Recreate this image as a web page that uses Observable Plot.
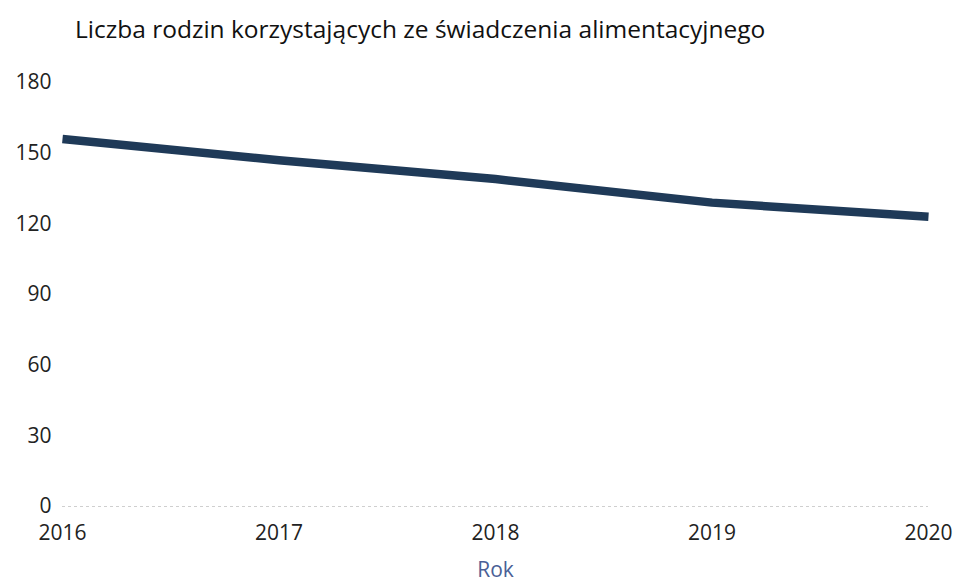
<!DOCTYPE html>
<html>
<head>
<meta charset="utf-8">
<script src="https://cdn.jsdelivr.net/npm/d3@7"></script>
<script src="https://cdn.jsdelivr.net/npm/@observablehq/plot@0.6"></script>
<style>
  body { margin: 0; background: #fff; }
  #wrap { width: 957px; height: 585px; position: relative; background:#fff; }
  #title { position: absolute; left: 75px; top: 12px; font-family: "Open Sans", sans-serif; font-size: 24.5px; color: #111; white-space: nowrap; }
  #chart { position: absolute; left: 0; top: 60px; }
</style>
</head>
<body>
<div id="wrap">
  <div id="title">Liczba rodzin korzystających ze świadczenia alimentacyjnego</div>
  <div id="chart"></div>
</div>
<script>
const years = [2016, 2017, 2018, 2019, 2020];
const values = [156, 147, 139, 129, 123];
const yTicks = [0, 30, 60, 90, 120, 150, 180];
const xLabel = "Rok";

const data = years.map((y, i) => ({ year: y, value: values[i] }));

const plot = Plot.plot({
  width: 957,
  height: 525,
  marginTop: 22,
  marginBottom: 79,
  marginLeft: 62,
  marginRight: 29,
  style: { fontFamily: "Open Sans, sans-serif", fontSize: "21px", color: "#222", background: "#fff" },
  x: { domain: [2016, 2020], label: null },
  y: { domain: [0, 180], label: null },
  axis: null,
  marks: [
    Plot.ruleY([0], { stroke: "#cfcfcf", strokeDasharray: "3,3", strokeWidth: 1 }),
    Plot.text(years, { x: d => d, frameAnchor: "bottom", dy: 33, text: d3.format("d"), fontSize: 21, fill: "#222" }),
    Plot.text(yTicks, { y: d => d, frameAnchor: "left", dx: -11, textAnchor: "end", text: d => String(d), fontSize: 21, fill: "#222" }),
    Plot.text([xLabel], { frameAnchor: "bottom", dy: 70, fill: "#4a5f96", fontSize: 21 }),
    Plot.line(data, { x: "year", y: "value", stroke: "#1f3a58", strokeWidth: 8.5, strokeLinecap: "butt" })
  ]
});
document.getElementById("chart").appendChild(plot);
</script>
</body>
</html>
